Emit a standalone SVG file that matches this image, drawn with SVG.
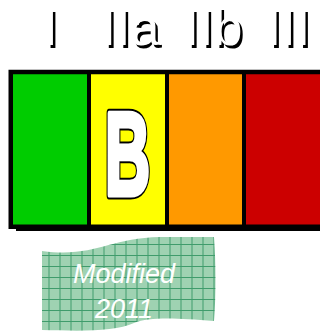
<svg xmlns="http://www.w3.org/2000/svg" width="320" height="335" viewBox="0 0 320 335">
<style>
.lbl{font-family:"Liberation Sans",Arial,sans-serif;font-size:52px;text-anchor:middle}
.sh{fill:#000}
.fg{fill:#fff}
.div{stroke:#000;stroke-width:4}
.bt{font-family:"Liberation Sans",Arial,sans-serif;font-style:italic;font-size:27px;fill:#fff;text-anchor:middle}
.bl{font-family:"Liberation Sans",Arial,sans-serif;font-weight:bold;font-size:119px;text-anchor:middle;stroke-linejoin:round}
</style>
<defs>
<pattern id="grid" patternUnits="userSpaceOnUse" x="4.5" y="2" width="11" height="11">
<rect width="11" height="11" fill="#9fd2b2"/>
<path d="M0.5,0V11M0,0.5H11" stroke="#3f9c6c" stroke-width="1"/>
</pattern>
</defs>
<rect width="320" height="335" fill="#fff"/>
<g id="labels">
<g id="label-I"><text class="lbl sh" x="53" y="48">I</text><text class="lbl fg" x="50.5" y="45">I</text></g>
<g id="label-IIa"><text class="lbl sh" x="133" y="48">IIa</text><text class="lbl fg" x="130.5" y="45">IIa</text></g>
<g id="label-IIb"><text class="lbl sh" x="216" y="48">IIb</text><text class="lbl fg" x="213.5" y="45">IIb</text></g>
<g id="label-III"><text class="lbl sh" x="291" y="48">III</text><text class="lbl fg" x="288.5" y="45">III</text></g>
</g>
<g id="bar">
<rect x="16" y="75" width="320" height="156" fill="#000"/>
<g id="col-I"><rect x="13" y="74" width="76" height="151" fill="#00cc00"/></g>
<g id="col-IIa"><rect x="89" y="74" width="78" height="151" fill="#ffff00"/>
<g transform="translate(127.5,195) scale(0.53,1)">
<text class="bl" fill="#000" stroke="#000" stroke-width="9">B</text>
<text class="bl" fill="#fff" stroke="#fff" stroke-width="5">B</text>
</g></g>
<g id="col-IIb"><rect x="167" y="74" width="77" height="151" fill="#ff9900"/></g>
<g id="col-III"><rect x="244" y="74" width="80" height="151" fill="#cc0000"/></g>
<rect x="10.75" y="72" width="330" height="154.75" fill="none" stroke="#000" stroke-width="4.5"/>
<g id="dividers">
<line class="div" x1="89" y1="70" x2="89" y2="226"/>
<line class="div" x1="167" y1="70" x2="167" y2="226"/>
<line class="div" x1="244" y1="70" x2="244" y2="226"/>
</g>
</g>
<g id="badge">
<path d="M42,251 C95,258 108,238 160,237 L214,237 C216,265 216,295 214,321 C175,318 150,317 134,323 C115,332 80,331 42,330 Z" fill="url(#grid)"/>
<text class="bt" x="124" y="283">Modified</text>
<text class="bt" x="124" y="318">2011</text>
</g>
</svg>
